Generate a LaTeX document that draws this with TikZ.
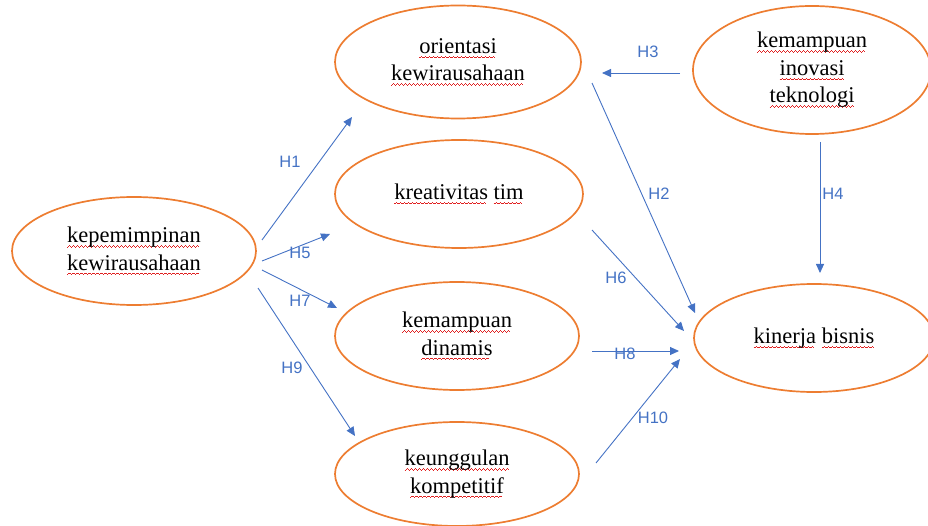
\documentclass[tikz,border=0pt]{standalone}
\usepackage{fontspec}
\setmainfont{Liberation Serif}
\newfontfamily\lblfont{Liberation Sans}
\usetikzlibrary{shapes.geometric,arrows.meta}
\definecolor{ellc}{HTML}{ED7D31}
\definecolor{arrc}{HTML}{4472C4}
\definecolor{sqc}{HTML}{E02020}
\newsavebox\sqbox
\newcommand\wavecell{\hbox{\rule[-4.9pt]{1pt}{0.8pt}\rule[-4.1pt]{1pt}{0.8pt}\rule[-3.3pt]{1pt}{0.8pt}\rule[-4.1pt]{1pt}{0.8pt}}}
\newcommand\sq[1]{\sbox\sqbox{#1}\rlap{\color{sqc}\hbox to\wd\sqbox{\leaders\wavecell\hfil}}\usebox\sqbox}
\tikzset{
  ov/.style={ellipse, draw=ellc, line width=1.7pt, inner sep=0pt, align=center,
    font=\fontsize{22.5}{27.5}\selectfont, minimum width=246pt, minimum height=110pt},
  arw/.style={draw=arrc, line width=0.9pt, -{Triangle[length=9pt,width=8pt]}},
  lbl/.style={text=arrc, font=\lblfont\fontsize{16.5}{18}\selectfont, inner sep=0pt}
}
\begin{document}
\begin{tikzpicture}[x=1pt,y=-1pt]
\useasboundingbox (0,0) rectangle (928,526);
% ellipses
\node[ov, minimum height=113pt] (ok) at (458,62) {\sq{orientasi}\\\sq{kewirausahaan}};
\node[ov, minimum width=238pt, minimum height=128pt] (kit) at (812,70) {\sq{kemampuan}\\\sq{inovasi}\\\sq{teknologi}};
\node[ov, minimum width=244pt, minimum height=108pt] (kk) at (134,251) {\sq{kepemimpinan}\\\sq{kewirausahaan}};
\node[ov, minimum width=248pt, minimum height=108pt] (kt) at (459,194) {\sq{kreativitas} \sq{tim}};
\node[ov, minimum width=244pt, minimum height=108pt] (kd) at (457,336) {\sq{kemampuan}\\\sq{dinamis}};
\node[ov, minimum width=244pt, minimum height=104pt] (kom) at (457,474) {\sq{keunggulan}\\\sq{kompetitif}};
\node[ov, minimum width=240pt, minimum height=108pt] (kb) at (814,338) {\sq{kinerja} \sq{bisnis}};
% connector end points
\coordinate (h1s) at (262,240); \coordinate (h1e) at (352,117);
\coordinate (h5s) at (262,261); \coordinate (h5e) at (330,234);
\coordinate (h7s) at (262,270); \coordinate (h7e) at (337,308);
\coordinate (h9s) at (258,288); \coordinate (h9e) at (355,436);
\coordinate (h3s) at (680,73); \coordinate (h3e) at (602,73);
\coordinate (h2s) at (592,83); \coordinate (h2e) at (695,313);
\coordinate (h4s) at (820,142); \coordinate (h4e) at (820,273);
\coordinate (h6s) at (592,230); \coordinate (h6e) at (684,331);
\coordinate (h8s) at (592,351); \coordinate (h8e) at (679,351);
\coordinate (h10s) at (596,463); \coordinate (h10e) at (680,359);
% connectors
\draw[arw] (h1s) -- (h1e);
\draw[arw] (h5s) -- (h5e);
\draw[arw] (h7s) -- (h7e);
\draw[arw] (h9s) -- (h9e);
\draw[arw] (h3s) -- (h3e);
\draw[arw] (h2s) -- (h2e);
\draw[arw] (h4s) -- (h4e);
\draw[arw] (h6s) -- (h6e);
\draw[arw] (h8s) -- (h8e);
\draw[arw] (h10s) -- (h10e);
% labels
\node[lbl] (l1) at (290,162) {H1};
\node[lbl] (l5) at (300,253) {H5};
\node[lbl] (l7) at (300,301) {H7};
\node[lbl] (l9) at (292,368) {H9};
\node[lbl] (l3) at (648,52) {H3};
\node[lbl] (l2) at (659,194) {H2};
\node[lbl] (l4) at (833,194) {H4};
\node[lbl] (l6) at (616,278) {H6};
\node[lbl] (l8) at (625,354) {H8};
\node[lbl] (l10) at (653,418) {H10};
\end{tikzpicture}
\end{document}
